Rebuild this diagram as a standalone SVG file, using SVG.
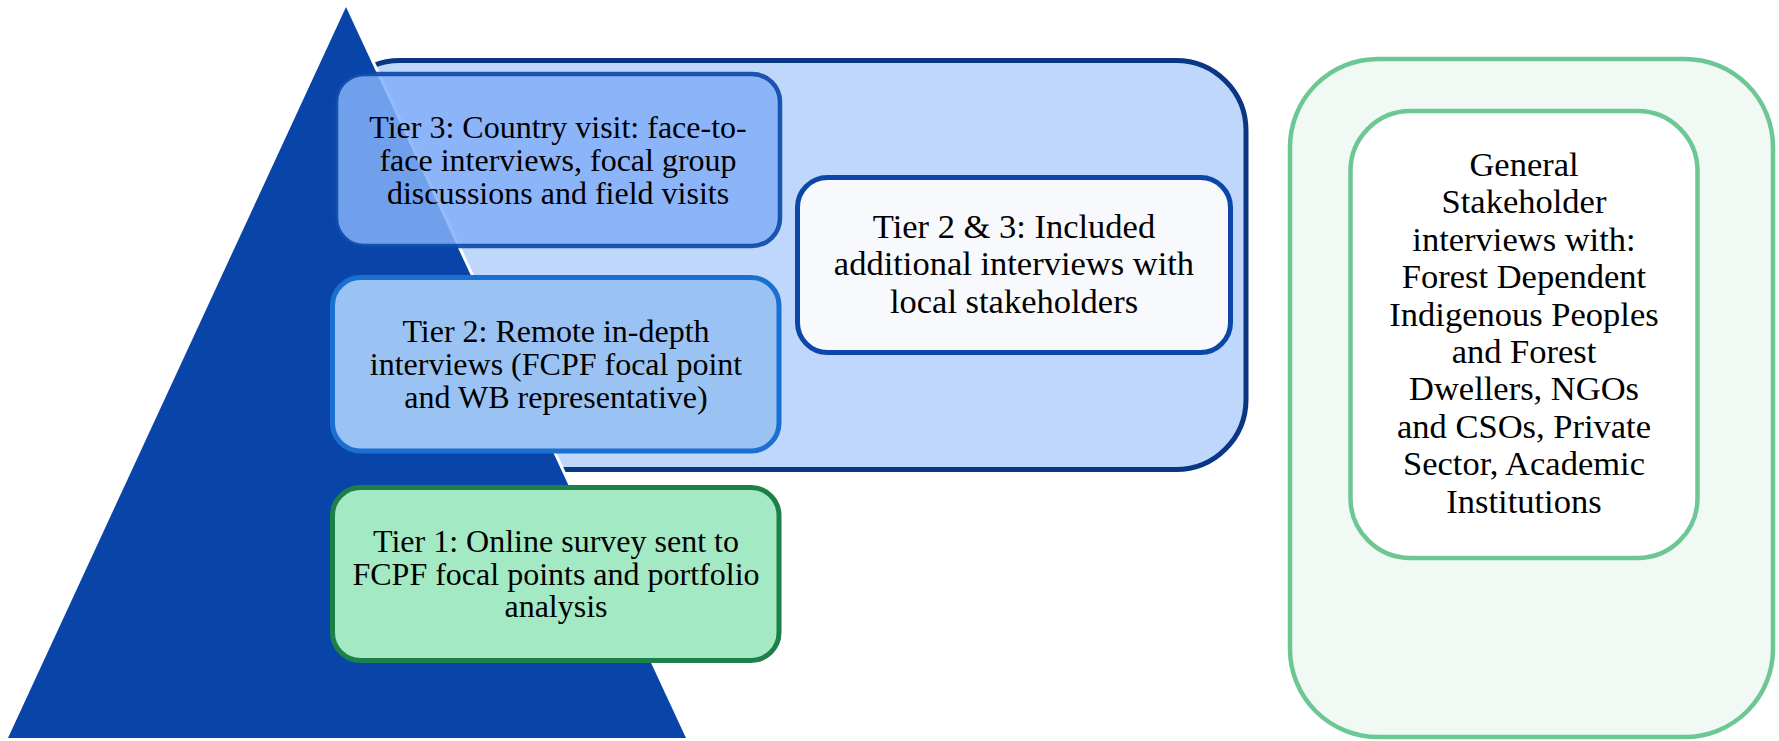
<svg xmlns="http://www.w3.org/2000/svg" width="1779" height="741" viewBox="0 0 1779 741">
<style>
text{font-family:"Liberation Serif","Times New Roman",serif;fill:#000;text-anchor:middle}
.t{font-size:32px}
.b{font-size:34.5px}
</style>
<rect width="1779" height="741" fill="#ffffff"/>
<g id="evaluation-frame">
<rect x="330" y="60.5" width="916" height="409" rx="70" ry="70" fill="#bfd7fb" stroke="#0a3783" stroke-width="5"/>
</g>
<g id="pyramid">
<polygon points="346,7 8,738 686,738" fill="#0945a9" stroke="#ffffff" stroke-width="6" stroke-linejoin="miter" paint-order="stroke"/>
</g>
<g id="tier3">
<rect x="336" y="74" width="444" height="172" rx="28" ry="28" fill="#82aff8" fill-opacity="0.85" stroke="#0b47a9" stroke-opacity="0.9" stroke-width="4.5"/>
<text class="t" x="558" y="138">Tier 3: Country visit: face-to-</text>
<text class="t" x="558" y="171">face interviews, focal group</text>
<text class="t" x="558" y="204">discussions and field visits</text>
</g>
<g id="tier2">
<rect x="332.5" y="277.5" width="446.5" height="173.5" rx="28" ry="28" fill="#9ac3f3" stroke="#1a6fd0" stroke-width="5"/>
<text class="t" x="556" y="342">Tier 2: Remote in-depth</text>
<text class="t" x="556" y="375">interviews (FCPF focal point</text>
<text class="t" x="556" y="408">and WB representative)</text>
</g>
<g id="tier1">
<rect x="332.5" y="487.5" width="446.5" height="173" rx="28" ry="28" fill="#a2e9c4" stroke="#1e8049" stroke-width="5"/>
<text class="t" x="556" y="552">Tier 1: Online survey sent to</text>
<text class="t" x="556" y="585">FCPF focal points and portfolio</text>
<text class="t" x="556" y="617">analysis</text>
</g>
<g id="tier23">
<rect x="797.5" y="177.5" width="433" height="175" rx="30" ry="30" fill="#f8f9fd" stroke="#0b47a9" stroke-width="5"/>
<text class="b" x="1014" y="238">Tier 2 &amp; 3: Included</text>
<text class="b" x="1014" y="275">additional interviews with</text>
<text class="b" x="1014" y="313">local stakeholders</text>
</g>
<g id="stakeholders-frame">
<rect x="1290" y="59" width="483" height="678" rx="88" ry="88" fill="#f0f9f4" stroke="#6dc795" stroke-width="4.5"/>
</g>
<g id="general-stakeholders">
<rect x="1350.5" y="111" width="347" height="447" rx="60" ry="60" fill="#ffffff" stroke="#6dc795" stroke-width="4.5"/>
<text class="b" x="1524" y="176">General</text>
<text class="b" x="1524" y="213.4">Stakeholder</text>
<text class="b" x="1524" y="250.8">interviews with:</text>
<text class="b" x="1524" y="288.2">Forest Dependent</text>
<text class="b" x="1524" y="325.6">Indigenous Peoples</text>
<text class="b" x="1524" y="363">and Forest</text>
<text class="b" x="1524" y="400.4">Dwellers, NGOs</text>
<text class="b" x="1524" y="437.8">and CSOs, Private</text>
<text class="b" x="1524" y="475.2">Sector, Academic</text>
<text class="b" x="1524" y="512.6">Institutions</text>
</g>
<g id="connectors"/>
</svg>
